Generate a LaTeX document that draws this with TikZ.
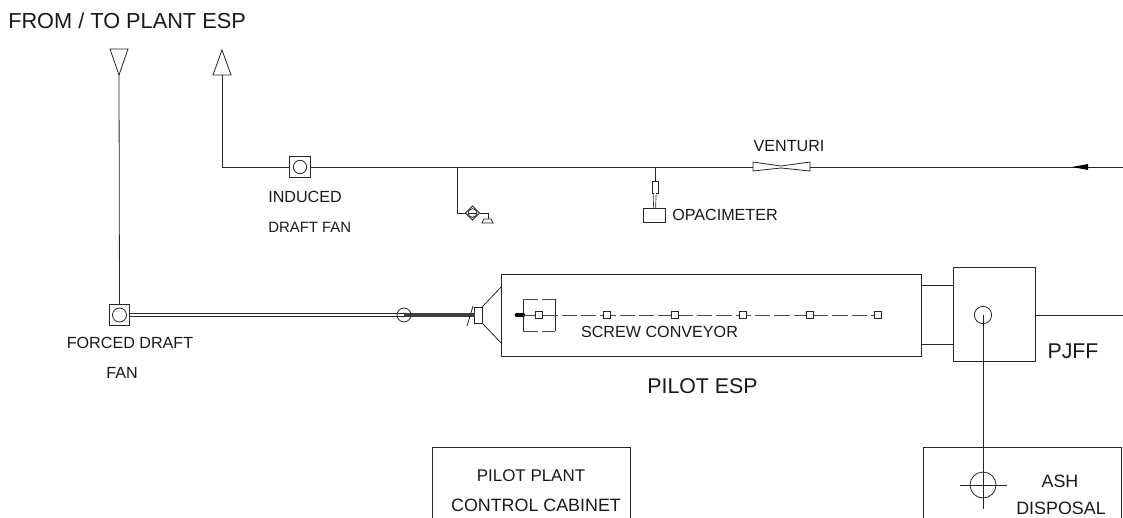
\documentclass[tikz,border=0pt]{standalone}
\usepackage{fontspec}
\setmainfont{Liberation Sans}
\usepackage{tikz}
\usetikzlibrary{shapes}
\tikzset{
    pipe/.style={line width=0.6pt, draw=black!85},
    dashpipe/.style={line width=0.6pt, draw=black!70, dash pattern=on 11.5pt off 3pt},
    box/.style={draw=black!85, line width=0.6pt, inner sep=0pt, outer sep=0pt},
    ring/.style={box, circle},
    slot/.style={box, fill=white, minimum size=5pt},
    lbl/.style={font=\fontsize{12.1}{14}\selectfont, inner sep=0pt, text=black!90},
    widelbl/.style={font=\fontsize{13.4}{15}\selectfont, inner sep=0pt, text=black!90},
    biglbl/.style={font=\fontsize{16}{18}\selectfont, inner sep=0pt, text=black!90},
}
\begin{document}
\begin{tikzpicture}[x=0.75pt, y=-0.75pt]
    \useasboundingbox (0,0) rectangle (1123,517);
    \clip (0,0) rectangle (1123,517);

    \node[biglbl, font=\fontsize{16.3}{18}\selectfont, anchor=west] (plantlbl) at (8,21) {FROM / TO PLANT ESP};

    \coordinate (downtip) at (119,75);
    \coordinate (uptip) at (222,50);
    \coordinate (upbase) at (222,75);
    \coordinate (teeduct) at (457,167);
    \coordinate (teeopac) at (655,167);
    \coordinate (ventl) at (753,167);
    \coordinate (ventr) at (810,167);
    \coordinate (ductend) at (1123,167);
    \coordinate (pjffend) at (1123,315);
    \coordinate (ashend) at (983,509);

    \draw[pipe] (downtip) -- ++(-9,-26) -- ++(18,0) -- cycle;
    \draw[pipe] (uptip) -- (213,75) -- (231,75) -- cycle;

    \node[box, minimum size=15.5pt] (fdbox) at (119.5,315) {};
    \node[ring, minimum size=10.5pt] (fdfan) at (119.5,315) {};
    \node[box, minimum size=15.5pt] (idbox) at (300,167) {};
    \node[ring, minimum size=10pt] (idfan) at (300,167) {};
    \draw[pipe] (downtip) -- (fdbox.north);
    \draw[pipe] (upbase) |- (idbox.west);
    \draw[pipe] (idbox.east) -- (ventl);
    \draw[pipe] (ventr) -- (ductend);
    \draw[pipe] (ventl) ++(0,-5) -- ++(28,4) -- ++(29,-4) -- ++(0,9) -- ++(-29,-3) -- ++(-28,3) -- cycle;
    \fill[black] (1072,167) -- (1088,164) -- (1088,170) -- cycle;

    \node[lbl] (ventlbl) at (789,146) {VENTURI};
    \node[lbl, anchor=west] (idlbl) at (268,197) {INDUCED};
    \node[lbl, font=\fontsize{11.2}{13}\selectfont, anchor=west] (idlbl2) at (268,227) {DRAFT FAN};
    \node[lbl] (fdlbl) at (130,343) {FORCED DRAFT};
    \node[lbl] (fdlbl2) at (122,373) {FAN};

    \node[box, diamond, aspect=1, minimum size=10.5pt] (filter) at (472.5,213) {};
    \node[ring, minimum size=6.5pt] (filterin) at (472.5,213) {};
    \draw[pipe] (filterin.west) -- (filterin.east);
    \coordinate (sinktop) at (488,219);
    \draw[pipe] (teeduct) |- (filter.west);
    \draw[pipe] (filter.east) -| (sinktop);
    \draw[pipe] (sinktop) ++(-4,0) -- ++(7,0) -- (493,223) -- (482,223) -- cycle;

    \node[box, minimum width=4.5pt, minimum height=8.5pt] (opacprobe) at (655,187.5) {};
    \node[box, minimum width=17pt, minimum height=10.5pt] (opacbox) at (654.5,215) {};
    \draw[pipe] (teeopac) -- (opacprobe.north);
    \draw[pipe, double, double distance=1.2pt, line width=0.5pt] (opacprobe.south) -- (opacbox.north);
    \node[lbl, anchor=west] (opaclbl) at (672,215) {OPACIMETER};

    \node[box, minimum width=315pt, minimum height=61.5pt] (esp) at (711,315) {};
    \node[box, minimum width=5.5pt, minimum height=12pt] (nozzle) at (478.5,315) {};
    \coordinate (slashtop) at (473,306);
    \coordinate (slashbot) at (467,326);
    \coordinate (dampermid) at (404,315);
    \draw[pipe, double, double distance=1.5pt, line width=0.5pt] (fdbox.east) -- (dampermid);
    \draw[line width=2.8pt, draw=black!75] (dampermid) -- (nozzle.west);
    \node[ring, minimum size=10.5pt] (damper) at (dampermid) {};
    \draw[pipe] (slashtop) -- (slashbot);
    \draw[pipe] (nozzle.north east) -- (esp.west |- 0,287);
    \draw[pipe] (nozzle.south east) -- (esp.west |- 0,343);

    \coordinate (hopnw) at (523,299);
    \coordinate (hopne) at (555,299);
    \coordinate (hopsw) at (523,331);
    \coordinate (hopse) at (555,331);
    \coordinate (hopw) at (523,315);
    \draw[pipe] (hopnw) -- (hopsw);
    \draw[pipe] (hopne) -- (hopse);
    \draw[dashpipe] (hopnw) -- (hopne);
    \draw[dashpipe] (hopsw) -- (hopse);
    \draw[line width=3.5pt, line cap=round] (hopw) -- ++(-6,0);

    \coordinate (screwend) at (878,315);
    \draw[dashpipe] (hopw) -- (screwend);
    \node[slot] (sq0) at (539,315) {};
    \node[slot] (sq1) at (607,315) {};
    \node[slot] (sq2) at (675,315) {};
    \node[slot] (sq3) at (743,315) {};
    \node[slot] (sq4) at (810,315) {};
    \node[slot] (sq5) at (screwend) {};
    \node[lbl] (screwlbl) at (659.5,332) {SCREW CONVEYOR};
    \node[biglbl] (esplbl) at (702.5,386) {PILOT ESP};

    \node[box, minimum width=61.5pt, minimum height=70pt] (pjff) at (994,314.5) {};
    \node[ring, minimum size=13pt] (rotary) at (983,315) {};
    \draw[pipe] (esp.east |- 0,285) -- (pjff.west |- 0,285);
    \draw[pipe] (esp.east |- 0,344) -- (pjff.west |- 0,344);
    \draw[pipe] (pjff.east |- pjffend) -- (pjffend);
    \node[biglbl] (pjfflbl) at (1073,351) {PJFF};

    \node[box, minimum width=148.5pt, minimum height=75pt] (ash) at (1022,497) {};
    \node[ring, minimum size=19.5pt] (ashdrum) at (983,485) {};
    \draw[pipe] (rotary.center) -- (ashend);
    \draw[pipe] (ashdrum.center) ++(-23,0) -- ++(47,0);
    \node[widelbl] (ashlbl) at (1060,481) {ASH};
    \node[widelbl] (ashlbl2) at (1061,508) {DISPOSAL};

    \node[box, minimum width=148pt, minimum height=75pt] (cabinet) at (531.5,497) {};
    \node[lbl, font=\fontsize{12.7}{15}\selectfont] (cablbl) at (531,476) {PILOT PLANT};
    \node[widelbl] (cablbl2) at (536,505) {CONTROL CABINET};
\end{tikzpicture}
\end{document}
